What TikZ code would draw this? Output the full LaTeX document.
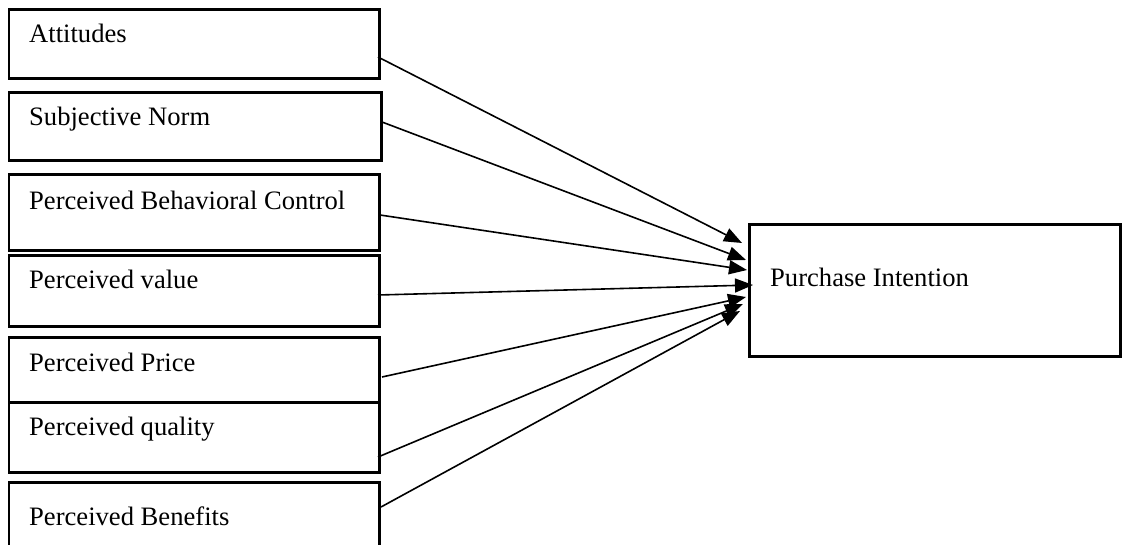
\documentclass[tikz,border=0pt]{standalone}
\usepackage{fontspec}
\setmainfont{Liberation Serif}
\usetikzlibrary{arrows.meta}

\tikzset{
  box/.style={draw=black, line width=2.7pt, fill=none, inner sep=0pt, anchor=north west},
  lbl/.style={inner sep=0pt, anchor=base west, font=\fontsize{26.6}{32}\selectfont},
  arr/.style={line width=1.6pt, -{Triangle[length=18pt,width=14pt]}}
}

\begin{document}
\begin{tikzpicture}[x=1pt, y=-1pt]
  \path[use as bounding box] (0,0) rectangle (1124,545);
  \clip (0,0) rectangle (1124,545);

  % predictor boxes
  \node[box, minimum width=370.5pt, minimum height=68.5pt] (att) at (7.5,8.5) {};
  \node[box, minimum width=372.5pt, minimum height=68pt]   (sn)  at (7.5,91) {};
  \node[box, minimum width=370.5pt, minimum height=76pt]   (pbc) at (7.5,173) {};
  \node[box, minimum width=370.5pt, minimum height=71pt]   (pv)  at (7.5,254) {};
  \node[box, minimum width=370.5pt, minimum height=65pt]   (pp)  at (7.5,336) {};
  \node[box, minimum width=370.5pt, minimum height=70pt]   (pq)  at (7.5,401) {};
  \node[box, minimum width=370.5pt, minimum height=100pt]  (pb)  at (7.5,481) {};

  % outcome box
  \node[box, minimum width=371pt, minimum height=132pt] (pi) at (748,223) {};

  % labels
  \node[lbl] (att-t) at (29,43)  {Attitudes};
  \node[lbl] (sn-t)  at (29,126) {Subjective Norm};
  \node[lbl] (pbc-t) at (29,210) {Perceived Behavioral Control};
  \node[lbl] (pv-t)  at (29,289) {Perceived value};
  \node[lbl] (pp-t)  at (29,371) {Perceived Price};
  \node[lbl] (pq-t)  at (29,435) {Perceived quality};
  \node[lbl] (pb-t)  at (29,525) {Perceived Benefits};
  \node[lbl] (pi-t)  at (770,287) {Purchase Intention};

  % connector ends
  \coordinate (s1) at (378,57);
  \coordinate (s2) at (382,122);
  \coordinate (s3) at (380,215);
  \coordinate (s4) at (378,295);
  \coordinate (s5) at (382,377);
  \coordinate (s6) at (378,457);
  \coordinate (s7) at (381,507);

  \coordinate (t1) at (742,243);
  \coordinate (t2) at (746,260);
  \coordinate (t3) at (747,270);
  \coordinate (t4) at (753,285);
  \coordinate (t5) at (746,297);
  \coordinate (t6) at (743,304);
  \coordinate (t7) at (740,311);

  % paths into purchase intention
  \draw[arr] (s1) -- (t1);
  \draw[arr] (s2) -- (t2);
  \draw[arr] (s3) -- (t3);
  \draw[arr] (s4) -- (t4);
  \draw[arr] (s5) -- (t5);
  \draw[arr] (s6) -- (t6);
  \draw[arr] (s7) -- (t7);
\end{tikzpicture}
\end{document}
